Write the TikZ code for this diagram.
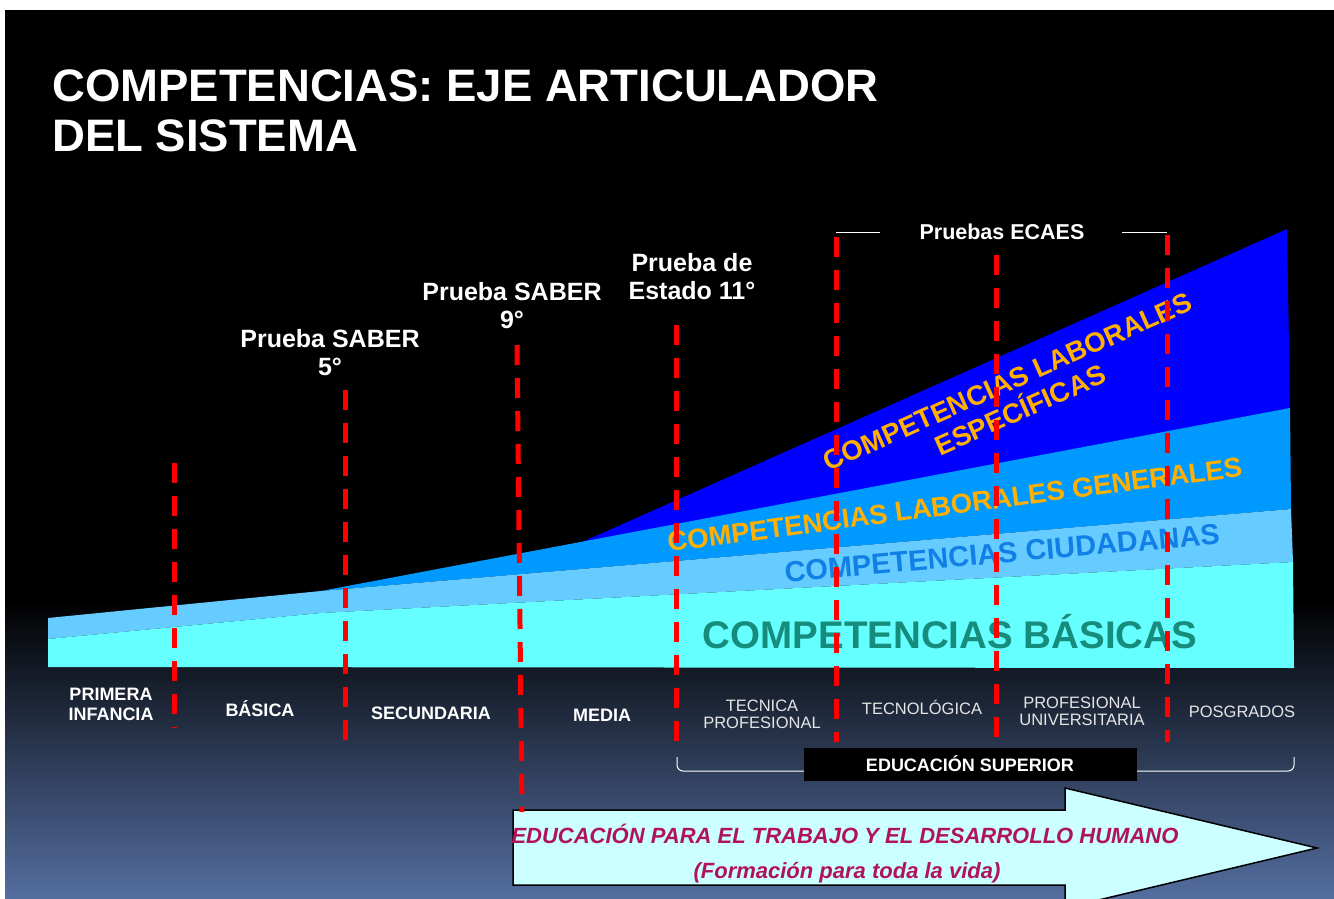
\documentclass[tikz,border=0pt]{standalone}
\usepackage{fontspec}
\setmainfont{Liberation Sans}
\definecolor{fondo}{RGB}{84,110,160}
\definecolor{azulosc}{RGB}{0,0,255}
\definecolor{azulmed}{RGB}{0,153,255}
\definecolor{azulcla}{RGB}{102,204,255}
\definecolor{cian}{RGB}{102,255,255}
\definecolor{naranja}{RGB}{255,176,0}
\definecolor{ciudad}{RGB}{16,128,230}
\definecolor{basico}{RGB}{22,140,125}
\definecolor{flecha}{RGB}{204,255,255}
\definecolor{vino}{RGB}{176,18,92}
\begin{document}
\begin{tikzpicture}[
    x=1pt, y=-1pt,
    divisor/.style={draw=red, line width=5pt, dash pattern=on 20pt off 13pt},
    prueba/.style={white, font=\bfseries\fontsize{25}{28}\selectfont, align=center, inner sep=0pt, anchor=north},
    nivel/.style={white, font=\bfseries\fontsize{18}{20}\selectfont, align=center, inner sep=0pt},
    superior/.style={white!90!black, font=\fontsize{16.5}{17.5}\selectfont, align=center, inner sep=0pt},
    banda/.style={font=\bfseries\fontsize{27.5}{31}\selectfont, align=center, inner sep=0pt},
    lema/.style={text=vino, font=\bfseries\itshape\fontsize{22}{24}\selectfont, anchor=base, inner sep=0pt}
]
\useasboundingbox (0,0) rectangle (1334,899);
\clip (0,0) rectangle (1334,899);

% Fondo
\fill[white] (0,0) rectangle (1334,899);
\fill[black] (5,10) rectangle (1334,600);
\shade[top color=black, bottom color=fondo] (5,600) rectangle (1334,899);

\node[white, font=\bfseries\fontsize{45.5}{50}\selectfont, align=left, anchor=north west, inner sep=0pt] (titulo) at (52,70) {COMPETENCIAS: EJE ARTICULADOR\\DEL SISTEMA};

% Bandas
\fill[azulosc] (580,543) -- (1287,229) -- (1290,408) -- cycle;
\fill[azulmed] (321,591) -- (1290,408) -- (1291,509) -- cycle;
\fill[azulcla] (48,618) -- (321,591) -- (1291,509) -- (1293,562) -- (321,613) -- (48,639) -- cycle;
\fill[cian] (48,639) -- (321,613) -- (1293,562) -- (1294,668) -- (48,667) -- cycle;

\node[banda, text=naranja, rotate=24] (cesp) at (1014,396) {COMPETENCIAS LABORALES\\ESPECÍFICAS};
\node[banda, text=naranja, rotate=7.5, anchor=base] (cgen) at (956,514) {COMPETENCIAS LABORALES GENERALES};
\node[banda, text=ciudad, rotate=5, anchor=base, font=\bfseries\fontsize{29}{31}\selectfont] (cciu) at (1003,563) {COMPETENCIAS CIUDADANAS};
\node[banda, text=basico, anchor=base, font=\bfseries\fontsize{38.5}{40}\selectfont] (cbas) at (950,648) {COMPETENCIAS BÁSICAS};

% Flecha
\filldraw[fill=flecha, draw=black, line width=1.5pt] (513,810) -- (1065,810) -- (1065,788) -- (1317,848) -- (1065,908) -- (1065,885) -- (513,885) -- cycle;
\node[lema] (etdh) at (845,843) {EDUCACIÓN PARA EL TRABAJO Y EL DESARROLLO HUMANO};
\node[lema] (vida) at (847,878) {(Formación para toda la vida)};

% Educacion superior
\coordinate (llaveizq) at (677,757);
\coordinate (llaveder) at (1294,757);
\draw[white, line width=1pt, rounded corners=6pt] (llaveizq) -- ++(0,14) -| (llaveder);
\node[fill=black, text=white, minimum width=333pt, minimum height=33pt, font=\bfseries\fontsize{18}{20}\selectfont] (edsup) at (970,764) {EDUCACIÓN SUPERIOR};

% Divisiones
\foreach \n/\xa/\ya/\xb/\yb in {1/174/463/174/728, 2/345/390/345/742, 3/517/345/522/812, 4/676/325/676/745, 5/836/237/836/742, 6/996/255/996/742, 7/1167/235/1167/742} {
  \coordinate (d\n a) at (\xa,\ya);
  \coordinate (d\n b) at (\xb,\yb);
  \draw[divisor] (d\n a) -- (d\n b);
}

% Pruebas
\node[prueba] (p5) at (330,329) {Prueba SABER\\5°};
\node[prueba] (p9) at (512,282) {Prueba SABER\\9°};
\node[prueba] (p11) at (692,253) {Prueba de\\Estado 11°};
\node[white, font=\bfseries\fontsize{21.5}{24}\selectfont, inner sep=0pt] (ecaes) at (1002,232) {Pruebas ECAES};
\draw[white, line width=1pt] (d5a |- ecaes) -- +(44,0);
\draw[white, line width=1pt] (d7a |- ecaes) -- +(-45,0);

% Niveles
\node[nivel] (primera) at (111,704) {PRIMERA\\INFANCIA};
\node[nivel, anchor=base] (basica) at (260,716) {BÁSICA};
\node[nivel, anchor=base] (secundaria) at (431,719.5) {SECUNDARIA};
\node[nivel, anchor=base] (media) at (602,721.5) {MEDIA};
\node[superior] (tecnica) at (762,714.5) {TECNICA\\PROFESIONAL};
\node[superior, anchor=base] (tecnologica) at (922,714) {TECNOLÓGICA};
\node[superior] (profesional) at (1082,711.5) {PROFESIONAL\\UNIVERSITARIA};
\node[superior, anchor=base] (posgrados) at (1242,717) {POSGRADOS};
\end{tikzpicture}
\end{document}
